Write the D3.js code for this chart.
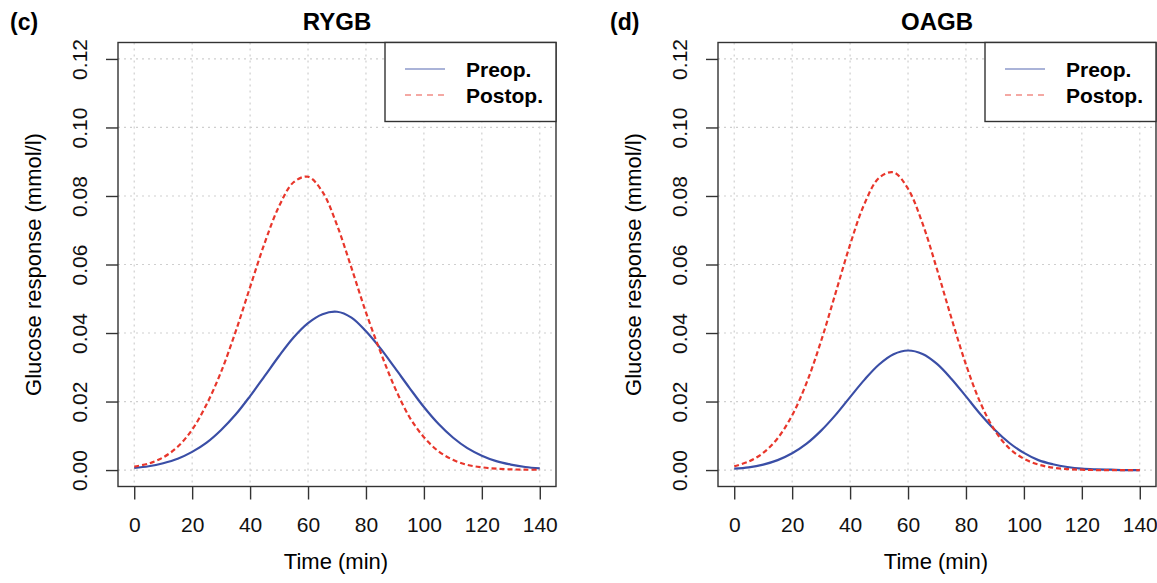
<!DOCTYPE html>
<html lang="en">
<head>
<meta charset="UTF-8">
<title>Glucose response</title>
<style>
    body{
        margin: 0;
        background-color: white;
        font-family: "Liberation Sans", Arial, sans-serif;
    }
    svg{
        display: block;
    }
</style>
</head>
<body>
<div id="chart"></div>
<script src="https://d3js.org/d3.v7.min.js"></script>
<script>

// values, every 5 minutes
const times = [0,5,10,15,20,25,30,35,40,45,50,55,60,65,70,75,80,85,90,95,100,105,110,115,120,125,130,135,140]

const rygbPreop  = [0.0006,0.0011,0.0020,0.0033,0.0053,0.0080,0.0117,0.0162,0.0216,0.0274,0.0333,0.0387,0.0429,0.0455,0.0462,0.0445,0.0405,0.0355,0.0298,0.0240,0.0184,0.0135,0.0095,0.0064,0.0042,0.0026,0.0016,0.0009,0.0005]
const rygbPostop = [0.0010,0.0019,0.0037,0.0068,0.0118,0.0192,0.0287,0.0404,0.0534,0.0662,0.0770,0.0840,0.0856,0.0812,0.0715,0.0590,0.0460,0.0345,0.0240,0.0155,0.0096,0.0055,0.0030,0.0015,0.0008,0.0004,0.0002,0.0001,0.0001]
const oagbPreop  = [0.0004,0.0008,0.0016,0.0029,0.0049,0.0077,0.0115,0.0161,0.0213,0.0264,0.0308,0.0338,0.0349,0.0339,0.0310,0.0266,0.0215,0.0163,0.0117,0.0079,0.0050,0.0029,0.0017,0.0009,0.0004,0.0002,0.0001,0.0000,0.0000]
const oagbPostop = [0.0011,0.0025,0.0050,0.0093,0.0160,0.0255,0.0377,0.0517,0.0658,0.0778,0.0853,0.0869,0.0821,0.0720,0.0586,0.0443,0.0308,0.0196,0.0115,0.0063,0.0033,0.0016,0.0007,0.0003,0.0001,0.0000,0.0000,0.0000,0.0000]

const xTicks = [0,20,40,60,80,100,120,140]
const yTicks = [0,0.02,0.04,0.06,0.08,0.10,0.12]
const panelTags = ["(c)", "(d)"]
const panelTitles = ["RYGB", "OAGB"]
const legendLabels = ["Preop.", "Postop."]

let panels = [
    {tag: panelTags[0], title: panelTitles[0], pre: rygbPreop, post: rygbPostop},
    {tag: panelTags[1], title: panelTitles[1], pre: oagbPreop, post: oagbPostop}
]

let W = 1157, H = 583
let blue = "#3a4ea6", red = "#e8362b", axisCol = "#333"
let tickSize = 21, labSize = 22

let svg = d3.select("#chart")
    .append("svg")
    .attr("width", W)
    .attr("height", H)
    .style("background", "white")

panels.forEach((p, i) => {
    let off = i * 600
    let left = 118 + off, right = 556 + off, top = 42.5, bottom = 486.5

    // R style: data range stretched by 4% on each side
    let x = d3.scaleLinear().domain([-5.6, 145.6]).range([left, right])
    let y = d3.scaleLinear().domain([-0.0048, 0.1248]).range([bottom, top])

    let g = svg.append("g")

    // dotted grid
    g.append("g").selectAll("line")
        .data(xTicks)
        .join("line")
        .attr("x1", d => x(d)).attr("x2", d => x(d))
        .attr("y1", top).attr("y2", bottom)
    g.append("g").selectAll("line")
        .data(yTicks)
        .join("line")
        .attr("x1", left).attr("x2", right)
        .attr("y1", d => y(d)).attr("y2", d => y(d))
    g.selectAll("g line")
        .attr("stroke", "#cfcfcf")
        .attr("stroke-width", 1.2)
        .attr("stroke-dasharray", "2 4")

    let line = d3.line()
        .x((d, k) => x(times[k]))
        .y(d => y(d))
        .curve(d3.curveCatmullRom.alpha(0.5))

    g.append("path")
        .attr("d", line(p.pre))
        .attr("fill", "none")
        .attr("stroke", blue)
        .attr("stroke-width", 2.2)

    g.append("path")
        .attr("d", line(p.post))
        .attr("fill", "none")
        .attr("stroke", red)
        .attr("stroke-width", 2.2)
        .attr("stroke-dasharray", "5 3")

    // box
    g.append("rect")
        .attr("x", left).attr("y", top)
        .attr("width", right - left).attr("height", bottom - top)
        .attr("fill", "none")
        .attr("stroke", axisCol)
        .attr("stroke-width", 1.4)

    // axes
    let xAxis = g.append("g")
        .attr("transform", `translate(0,${bottom})`)
        .call(d3.axisBottom(x).tickValues(xTicks).tickSize(13))
    xAxis.select(".domain").remove()
    xAxis.selectAll("text")
        .attr("y", 45.5).attr("dy", 0)

    let yAxis = g.append("g")
        .attr("transform", `translate(${left},0)`)
        .call(d3.axisLeft(y).tickValues(yTicks).tickSize(12).tickFormat(d3.format(".2f")))
    yAxis.select(".domain").remove()
    yAxis.selectAll("text")
        .attr("transform", "rotate(-90)")
        .attr("x", 0).attr("y", -30.7).attr("dy", 0)
        .attr("text-anchor", "middle")

    g.selectAll(".tick line")
        .attr("stroke", axisCol)
        .attr("stroke-width", 1.4)
    g.selectAll(".tick text")
        .attr("fill", "#111")
        .style("font-size", tickSize + "px")
        .style("font-family", "Liberation Sans, Arial, sans-serif")

    // labels
    g.append("text")
        .attr("x", (left + right) / 2 - 1).attr("y", 569)
        .attr("text-anchor", "middle")
        .style("font-size", labSize + "px")
        .text("Time (min)")

    g.append("text")
        .attr("transform", `translate(${40.5 + off},${(top + bottom) / 2}) rotate(-90)`)
        .attr("text-anchor", "middle")
        .style("font-size", labSize + "px")
        .text("Glucose response (mmol/l)")

    g.append("text")
        .attr("x", (left + right) / 2).attr("y", 30)
        .attr("text-anchor", "middle")
        .style("font-size", "24px")
        .style("font-weight", "bold")
        .text(p.title)

    g.append("text")
        .attr("x", 10 + off).attr("y", 30)
        .style("font-size", "23px")
        .style("font-weight", "bold")
        .text(p.tag)

    // legend
    let lg = g.append("g")
    lg.append("rect")
        .attr("x", right - 171).attr("y", top)
        .attr("width", 171).attr("height", 79)
        .attr("fill", "white")
        .attr("stroke", axisCol)
        .attr("stroke-width", 1.4)

    let items = lg.selectAll(".item")
        .data(legendLabels)
        .join("g")
        .attr("class", "item")
        .attr("transform", (d, k) => `translate(${right - 171},${69 + k * 26})`)

    items.append("line")
        .attr("x1", 20).attr("x2", 60)
        .attr("stroke", (d, k) => k == 0 ? blue : red)
        .attr("stroke-width", 1.2)
        .attr("stroke-dasharray", (d, k) => k == 0 ? null : "6 5")
        .attr("opacity", 0.85)

    items.append("text")
        .attr("x", 81).attr("y", 7.5)
        .style("font-size", "21px")
        .style("font-weight", "bold")
        .text(d => d)
})

</script>
</html>
